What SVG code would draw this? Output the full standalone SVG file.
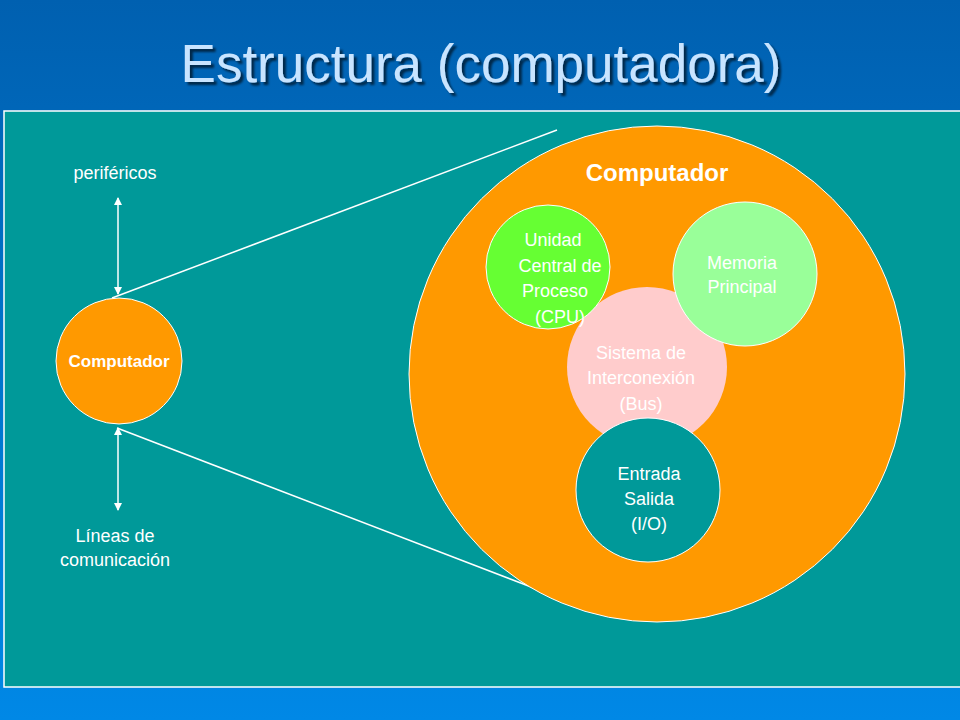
<svg xmlns="http://www.w3.org/2000/svg" width="960" height="720" viewBox="0 0 960 720">
<defs>
<linearGradient id="bg" x1="0" y1="0" x2="0" y2="1"><stop offset="0" stop-color="#0060b0"/><stop offset="1" stop-color="#0088e6"/></linearGradient>
<filter id="sh" x="-5%" y="-20%" width="110%" height="140%"><feDropShadow dx="3" dy="3" stdDeviation="1" flood-color="#000" flood-opacity="0.6"/></filter>
<marker id="ah" markerWidth="8" markerHeight="8" refX="7" refY="4" orient="auto-start-reverse" markerUnits="userSpaceOnUse"><path d="M0,0 L8,4 L0,8 z" fill="#fff"/></marker>
<style>
text{font-family:"Liberation Sans",Arial,sans-serif;fill:#fff;text-anchor:middle}
.l{font-size:20px}
.w{stroke:#fff;stroke-width:1.5}
</style>
</defs>
<rect width="960" height="720" fill="url(#bg)"/>
<text x="481" y="82" filter="url(#sh)" style="font-size:53px;fill:#c8e4ff">Estructura (computadora)</text>
<rect x="4" y="111" width="960" height="576" fill="#009999" stroke="#fff" stroke-width="1.5"/>
<g id="connectors" fill="none">
<line x1="112" y1="298" x2="557" y2="130" class="w"/>
<line x1="117" y1="428" x2="552" y2="595" class="w"/>
<line x1="118" y1="198" x2="118" y2="294" class="w" marker-start="url(#ah)" marker-end="url(#ah)"/>
<line x1="118" y1="428" x2="118" y2="510" class="w" marker-start="url(#ah)" marker-end="url(#ah)"/>
</g>
<g id="perifericos"><text x="115" y="179" class="l" style="font-size:18px">periféricos</text></g>
<g id="lineas"><text x="115" y="542" class="l" style="font-size:18px">Líneas de</text><text x="115" y="566" class="l" style="font-size:18px">comunicación</text></g>
<g id="computador-small"><circle cx="119" cy="361" r="63" fill="#ff9900" stroke="#fff"/><text x="119" y="367" style="font-size:17px;font-weight:bold">Computador</text></g>
<g id="computador-big"><circle cx="657" cy="374" r="248" fill="#ff9900" stroke="#fff"/><text x="657" y="181" style="font-size:24px;font-weight:bold">Computador</text></g>
<g id="bus"><circle cx="647" cy="367" r="80" fill="#ffcccc"/><text x="641" y="359" class="l" style="font-size:18px">Sistema de</text><text x="641" y="384" class="l" style="font-size:18px">Interconexión</text><text x="641" y="410" class="l" style="font-size:18px">(Bus)</text></g>
<g id="cpu"><circle cx="548" cy="267" r="62" fill="#66ff33" stroke="#fff"/><text x="553" y="246" class="l" style="font-size:18px">Unidad</text><text x="560" y="272" class="l" style="font-size:18px">Central de</text><text x="555" y="297" class="l" style="font-size:18px">Proceso</text><text x="560" y="323" class="l" style="font-size:18px">(CPU)</text></g>
<g id="memoria"><circle cx="745" cy="274" r="72" fill="#99ff99" stroke="#fff"/><text x="742" y="269" class="l" style="font-size:18px">Memoria</text><text x="742" y="293" class="l" style="font-size:18px">Principal</text></g>
<g id="io"><circle cx="648" cy="490" r="72" fill="#009999" stroke="#fff"/><text x="649" y="480" class="l" style="font-size:18px">Entrada</text><text x="649" y="505" class="l" style="font-size:18px">Salida</text><text x="649" y="530" class="l" style="font-size:18px">(I/O)</text></g>
</svg>
